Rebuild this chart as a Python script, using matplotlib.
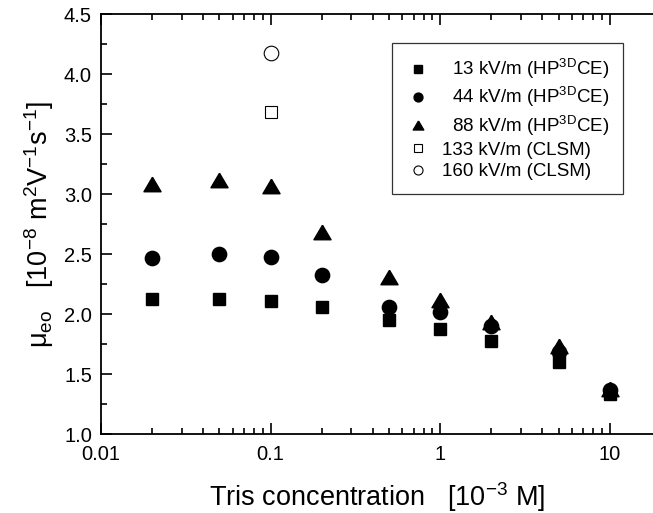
import matplotlib.pyplot as plt
from matplotlib.ticker import FixedLocator, LogLocator, MultipleLocator, NullFormatter

plt.rcParams['font.family'] = ['Liberation Sans', 'DejaVu Sans']
plt.rcParams['mathtext.default'] = 'regular'

# data
tris = [0.02, 0.05, 0.1, 0.2, 0.5, 1, 2, 5, 10]
mu_13 = [2.13, 2.13, 2.11, 2.06, 1.95, 1.88, 1.78, 1.60, 1.34]
mu_44 = [2.47, 2.50, 2.48, 2.33, 2.06, 2.02, 1.90, 1.69, 1.37]
mu_88 = [3.09, 3.12, 3.07, 2.69, 2.31, 2.12, 1.94, 1.74, 1.38]
clsm_x = [0.1]
mu_133 = [3.69]
mu_160 = [4.18]

x_ticks = [0.01, 0.1, 1, 10]
x_tick_labels = ['0.01', '0.1', '1', '10']

# slightly flattened triangle like the original
tri = [(0, 0.85), (-1, -0.85), (1, -0.85), (0, 0.85)]

fig = plt.figure(figsize=(6.53, 5.13), dpi=100)
ax = fig.add_axes([0.1547, 0.1534, 0.8453, 0.8187])

ax.plot(tris, mu_13, 's', color='black', markersize=8.4, label='  13 kV/m (HP$^{3D}$CE)')
ax.plot(tris, mu_44, 'o', color='black', markersize=10.3, label='  44 kV/m (HP$^{3D}$CE)')
ax.plot(tris, mu_88, marker=tri, ls='none', color='black', markersize=12.3, label='  88 kV/m (HP$^{3D}$CE)')
ax.plot(clsm_x, mu_133, 's', mfc='white', mec='black', mew=0.8, markersize=8.4, label='133 kV/m (CLSM)')
ax.plot(clsm_x, mu_160, 'o', mfc='white', mec='black', mew=0.8, markersize=10.5, label='160 kV/m (CLSM)')

ax.set_xscale('log')
ax.set_xlim(0.01, 18.05)
ax.set_ylim(1.0, 4.5)

ax.xaxis.set_major_locator(FixedLocator(x_ticks))
ax.set_xticklabels(x_tick_labels)
ax.xaxis.set_minor_locator(LogLocator(base=10, subs=range(2, 10)))
ax.xaxis.set_minor_formatter(NullFormatter())
ax.yaxis.set_major_locator(MultipleLocator(0.5))
ax.yaxis.set_minor_locator(MultipleLocator(0.25))
ax.yaxis.set_major_formatter(plt.FormatStrFormatter('%.1f'))

ax.spines['right'].set_visible(False)
for s in ['left', 'bottom', 'top']:
    ax.spines[s].set_linewidth(1.3)
ax.tick_params(which='both', direction='in', top=True, right=False, labelsize=14.5, width=1.2)
ax.tick_params(which='major', length=8)
ax.tick_params(axis='x', which='major', pad=7.5)
ax.tick_params(axis='y', which='major', pad=6.5)
ax.tick_params(which='minor', length=4.3)

ax.set_xlabel('Tris concentration   [10$^{-3}$ M]', fontsize=19.5, labelpad=12)
ax.set_ylabel('μ$_{eo}$   [10$^{-8}$ m$^2$V$^{-1}$s$^{-1}$]', fontsize=19.5, labelpad=6)

leg = ax.legend(loc='upper right', bbox_to_anchor=(0.9457, 0.9317), borderaxespad=0,
                fontsize=13.5, frameon=True, fancybox=False, edgecolor='black',
                markerscale=0.62, handlelength=1.3, handletextpad=0.6,
                labelspacing=0.22, borderpad=0.75)
leg.get_frame().set_linewidth(0.9)

fig.savefig('out.png', dpi=100)
